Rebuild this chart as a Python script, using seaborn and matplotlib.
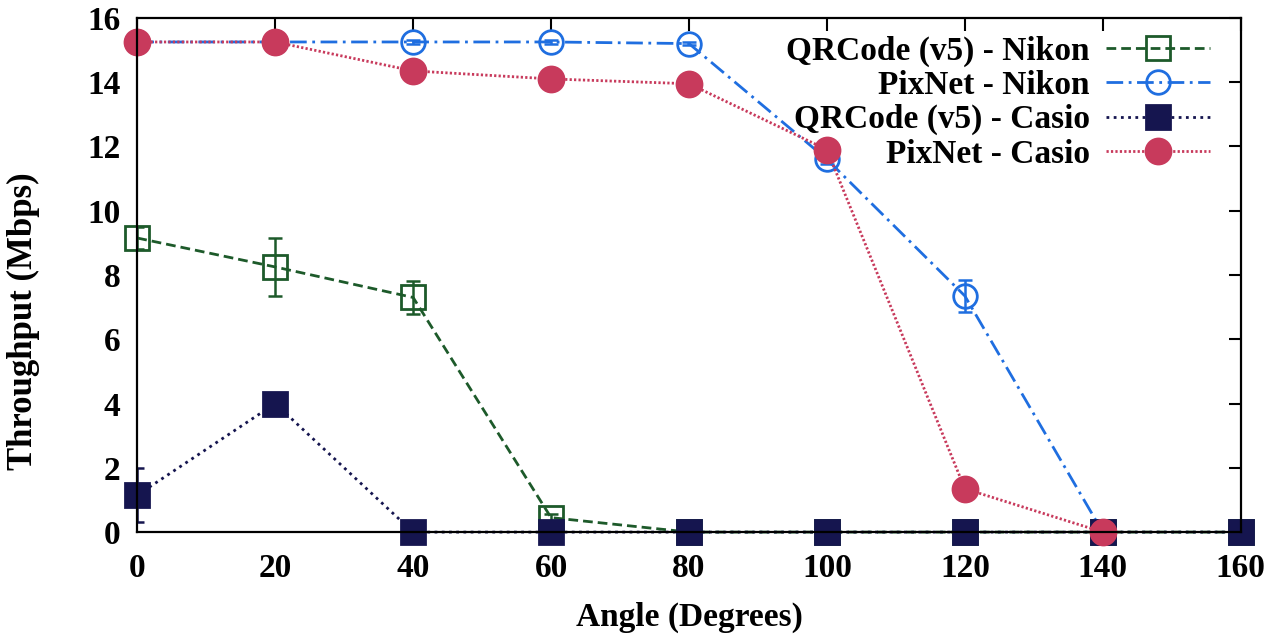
# throughput vs viewing angle, gnuplot-looking line chart

import numpy as np
import pandas as pd
import matplotlib.pyplot as plt
import seaborn as sns

angles = [0, 20, 40, 60, 80, 100, 120, 140, 160]

qr_nikon = [9.15, 8.25, 7.3, 0.45, 0.0, 0.0, 0.0, 0.0, 0.0]
qr_nikon_err = [0.35, 0.9, 0.5, 0.1, 0.0, 0.0, 0.0, 0.0, 0.0]

pix_nikon = [15.25, 15.25, 15.25, 15.25, 15.2, 11.6, 7.35, 0.0, np.nan]
pix_nikon_err = [0.05, 0.05, 0.05, 0.05, 0.05, 0.15, 0.5, 0.0, 0.0]

qr_casio = [1.15, 4.0, 0.0, 0.0, 0.0, 0.0, 0.0, 0.0, 0.0]
qr_casio_err = [0.85, 0.2, 0.0, 0.0, 0.0, 0.0, 0.0, 0.0, 0.0]

pix_casio = [15.25, 15.25, 14.35, 14.1, 13.95, 11.9, 1.35, 0.0, np.nan]
pix_casio_err = [0.0, 0.0, 0.0, 0.0, 0.0, 0.0, 0.0, 0.0, 0.0]

series_names = ["QRCode (v5) - Nikon", "PixNet - Nikon",
                "QRCode (v5) - Casio", "PixNet - Casio"]

sns.set_theme(style="white")
plt.rcParams['font.family'] = ['Liberation Serif', 'DejaVu Serif']
plt.rcParams['font.weight'] = 'bold'
plt.rcParams['axes.labelweight'] = 'bold'
plt.rcParams['text.color'] = 'black'
plt.rcParams['axes.labelcolor'] = 'black'
plt.rcParams['xtick.color'] = 'black'
plt.rcParams['ytick.color'] = 'black'

fig = plt.figure(figsize=(12.83, 6.38), dpi=100)
ax = fig.add_axes([0.107, 0.166, 0.860, 0.806])

styles = [
    dict(color='#1d5a2a', marker='s', mfc='none', ls=(0, (3.5, 1.8)), ms=17),
    dict(color='#1f6ee0', marker='o', mfc='none', ls=(0, (6, 2, 1, 2)), ms=17),
    dict(color='#15154f', marker='s', mfc='#15154f', ls=(0, (1, 1.6)), ms=17),
    dict(color='#c83a5c', marker='o', mfc='#c83a5c', ls=(0, (0.8, 0.8)), ms=18),
]
values = [qr_nikon, pix_nikon, qr_casio, pix_casio]
errors = [qr_nikon_err, pix_nikon_err, qr_casio_err, pix_casio_err]

for name, vals, errs, st in zip(series_names, values, errors, styles):
    df = pd.DataFrame({'angle': angles, 'thr': vals, 'err': errs}).dropna()
    ax.errorbar(df['angle'], df['thr'], yerr=df['err'], fmt='none',
                ecolor=st['color'], elinewidth=1.8, capsize=5, capthick=1.8)
    sns.lineplot(data=df, x='angle', y='thr', ax=ax, color=st['color'],
                 marker=st['marker'], markersize=st['ms'],
                 markerfacecolor=st['mfc'], markeredgecolor=st['color'],
                 markeredgewidth=2, linestyle=st['ls'], linewidth=2,
                 label=name, clip_on=False)

ax.set_xlim(0, 160)
ax.set_ylim(0, 16)
ax.set_xticks(range(0, 161, 20))
ax.set_yticks(range(0, 17, 2))
ax.tick_params(direction='in', length=9, width=1.5, top=True, right=True,
               labelsize=24, pad=12)
ax.tick_params(axis='x', pad=15)
for lab in ax.get_xticklabels() + ax.get_yticklabels():
    lab.set_fontweight('bold')
for sp in ax.spines.values():
    sp.set_linewidth(1.6)
    sp.set_color('black')

ax.set_xlabel('Angle (Degrees)', fontsize=24)
ax.set_ylabel('Throughput (Mbps)', fontsize=25)
ax.xaxis.set_label_coords(0.5, -0.135)
ax.yaxis.set_label_coords(-0.088, 0.41)

leg = ax.legend(loc='upper right', bbox_to_anchor=(0.99, 1.005),
                frameon=False, markerfirst=False, fontsize=24,
                handlelength=3.1, labelspacing=0.1, handletextpad=0.5,
                borderaxespad=0.2)
for t in leg.get_texts():
    t.set_fontweight('bold')

fig.savefig('out.png', dpi=100)
